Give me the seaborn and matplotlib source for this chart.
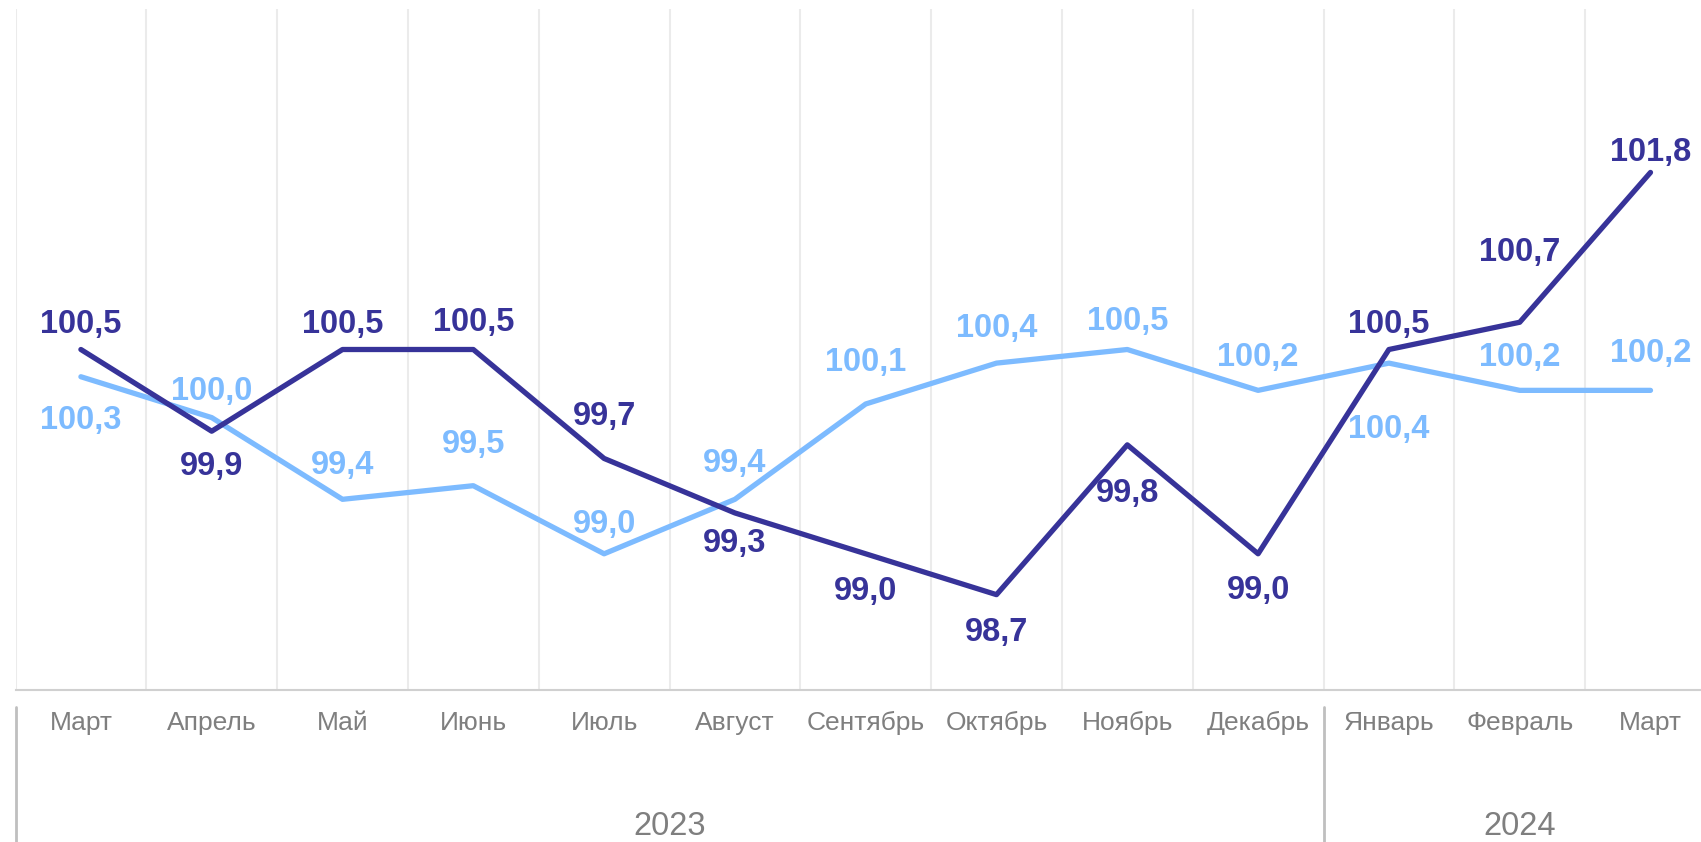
import matplotlib
matplotlib.use("Agg")
import matplotlib.pyplot as plt
import matplotlib.transforms as mtransforms
from matplotlib.lines import Line2D
import seaborn as sns
import pandas as pd

# ---- data ----
months = ["Март", "Апрель", "Май", "Июнь", "Июль", "Август", "Сентябрь",
          "Октябрь", "Ноябрь", "Декабрь", "Январь", "Февраль", "Март"]
years = ["2023", "2024"]
year_counts = [10, 3]
dark_values = [100.5, 99.9, 100.5, 100.5, 99.7, 99.3, 99.0, 98.7, 99.8, 99.0, 100.5, 100.7, 101.8]
light_values = [100.3, 100.0, 99.4, 99.5, 99.0, 99.4, 100.1, 100.4, 100.5, 100.2, 100.4, 100.2, 100.2]

# ---- layout (label offsets in image pixels, positive = downward) ----
dark_label_off = [-25, 35, -25, -27, -42, 31, 38, 38, 49, 37, -25, -70, -20]
light_label_off = [44, -26, -34, -41, -29, -36, -41, -35, -28, -33, 66, -33, -37]

DARK = "#373399"
LIGHT = "#7DBBFF"
GREY_TXT = "#7F7F7F"

sns.set_theme(style="white")
plt.rcParams["font.family"] = ["Liberation Sans", "DejaVu Sans"]

W, H = 1701, 842
fig = plt.figure(figsize=(W / 100, H / 100), dpi=100)
left_px, right_px = 15.5, 15.5 + 13 * 130.8
top_px, bottom_px = 9, 690
ax = fig.add_axes([left_px / W, 1 - bottom_px / H, (right_px - left_px) / W, (bottom_px - top_px) / H])

n = len(months)
pos = list(range(n))
df = pd.DataFrame({"pos": pos * 2,
                   "value": light_values + dark_values,
                   "series": ["light"] * n + ["dark"] * n})

# vertical gridlines at category boundaries
for b in range(n):
    ax.axvline(b - 0.5, color="#EBEBEB", lw=1.5, zorder=0)

sns.lineplot(data=df, x="pos", y="value", hue="series",
             palette={"light": LIGHT, "dark": DARK}, hue_order=["light", "dark"],
             linewidth=3.8, legend=False, ax=ax, sort=False,
             solid_capstyle="round")

ax.set_xlim(-0.5, n - 0.5)
ax.set_ylim(98, 103)
ax.set_xticks([])
ax.set_yticks([])
ax.set_xlabel("")
ax.set_ylabel("")
for s in ["top", "right", "left"]:
    ax.spines[s].set_visible(False)
ax.spines["bottom"].set_color("#D0D0D0")
ax.spines["bottom"].set_linewidth(1.5)

def fmt(v):
    return f"{v:.1f}".replace(".", ",")

for i, v in enumerate(dark_values):
    ax.annotate(fmt(v), (i, v), xytext=(0, -dark_label_off[i]), textcoords="offset pixels",
                ha="center", va="center", fontsize=23.5, fontweight="bold", color=DARK, zorder=5)
for i, v in enumerate(light_values):
    ax.annotate(fmt(v), (i, v), xytext=(0, -light_label_off[i]), textcoords="offset pixels",
                ha="center", va="center", fontsize=23.5, fontweight="bold", color=LIGHT, zorder=5)

# category axis (two levels)
trans = mtransforms.blended_transform_factory(ax.transData, fig.transFigure)
for i, m in enumerate(months):
    ax.text(i, 1 - 723 / H, m, transform=trans, ha="center", va="center",
            fontsize=19, color=GREY_TXT)

start = 0
bounds = [-0.5]
for yr, cnt in zip(years, year_counts):
    end = start + cnt
    ax.text((start - 0.5 + end - 0.5) / 2, 1 - 835 / H, yr, transform=trans,
            ha="center", va="baseline", fontsize=23.5, color=GREY_TXT)
    bounds.append(end - 0.5)
    start = end
for b in bounds[:-1]:
    ax.add_line(Line2D([b, b], [1 - 707 / H, 0], transform=trans, color="#BFBFBF",
                       lw=2, clip_on=False))

fig.savefig("out.png", dpi=100)
